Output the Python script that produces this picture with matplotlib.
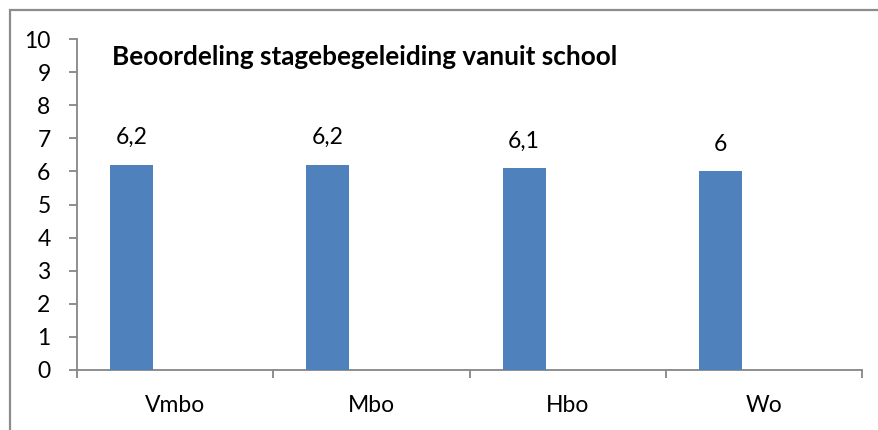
import matplotlib
matplotlib.use("Agg")
import matplotlib.pyplot as plt
from matplotlib.patches import Rectangle

categories = ["Vmbo", "Mbo", "Hbo", "Wo"]
values = [6.2, 6.2, 6.1, 6.0]
value_labels = ["6,2", "6,2", "6,1", "6"]
title = "Beoordeling stagebegeleiding vanuit school"

plt.rcParams['font.family'] = ['Lato', 'DejaVu Sans']

W, H = 879, 430
fig = plt.figure(figsize=(W / 100, H / 100), dpi=100)

ax = fig.add_axes([77 / W, 1 - 370 / H, (862 - 77) / W, (370 - 39) / H])

axis_col = "#868686"
bar_col = "#4F81BD"
fs = 16.5
bw = 0.219
xs = [i - 0.222 for i in range(len(categories))]
bars = ax.bar(xs, values, width=bw, color=bar_col, zorder=3)

for x, v, lab in zip(xs, values, value_labels):
    ax.annotate(lab, (x, v), xytext=(0, 19.5), textcoords="offset points",
                ha="center", va="center", fontsize=fs, color="black")

ax.set_xlim(-0.5, len(categories) - 0.5)
ax.set_ylim(0, 10)
ax.set_yticks(range(0, 11))
ax.set_yticklabels([str(i) for i in range(0, 11)], fontsize=fs)

ax.set_xticks([i - 0.5 for i in range(len(categories) + 1)])
ax.set_xticklabels([])
ax.set_xticks(range(len(categories)), minor=True)
ax.set_xticklabels(categories, minor=True, fontsize=fs)
ax.tick_params(axis="x", which="minor", length=0, pad=18)
ax.tick_params(axis="x", which="major", length=6, width=1.3, color=axis_col, direction="out")
ax.tick_params(axis="y", length=6, width=1.3, color=axis_col, pad=13)
for lab in ax.get_yticklabels():
    lab.set_horizontalalignment("right")

for s in ["top", "right"]:
    ax.spines[s].set_visible(False)
for s in ["left", "bottom"]:
    ax.spines[s].set_color(axis_col)
    ax.spines[s].set_linewidth(1.3)

fig.text(112 / W, 1 - 65 / H, title, fontsize=18.8, fontweight="bold",
         ha="left", va="baseline", color="black")

frame = Rectangle((9.5 / W, -0.1), 1.2, 1 - 9.5 / H + 0.1, transform=fig.transFigure,
                  fill=False, edgecolor="#8C8C8C", linewidth=1.6)
fig.add_artist(frame)

fig.savefig("out.png", dpi=100)
